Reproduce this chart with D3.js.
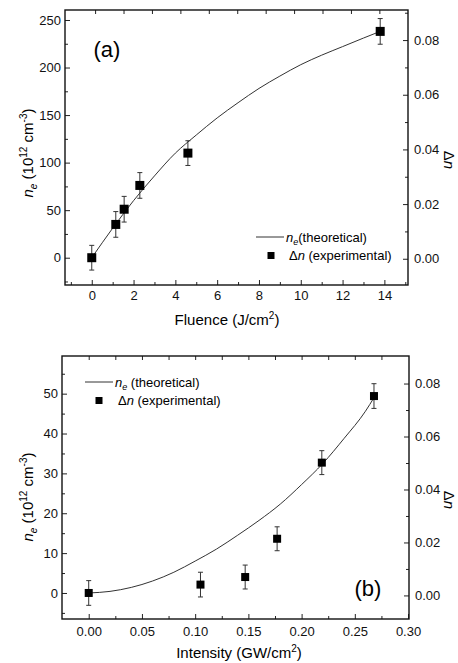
<!DOCTYPE html>
<html lang="en">
<head>
<meta charset="utf-8" />
<title>ne vs fluence and intensity</title>
<script src="https://d3js.org/d3.v7.min.js"></script>
<style>
  body { margin: 0; background: #fff; }
  svg { font-family: Arial, "Liberation Sans", sans-serif; }
  .tick line { stroke: #222; stroke-width: 1; }
  .tick text { font-size: 13px; fill: #111; }
  .domain { display: none; }
</style>
</head>
<body>
<script>
// panel (a): fluence
const fluence = [0, 1.15, 1.55, 2.3, 4.6, 13.8];
const neA = [0, 35, 51, 76, 110, 238];
const errA = [13, 13.5, 13.5, 13.5, 13, 13.5];
const curveFluence = [0, 1, 2, 3, 4, 5, 6, 7, 8, 9, 10, 11, 12, 13, 13.8];
const curveNeA = [0, 31, 60, 86, 110, 129, 147, 163, 178, 191, 203, 213, 222, 231, 238];

// panel (b): intensity
const intensity = [0, 0.105, 0.147, 0.177, 0.219, 0.268];
const neB = [0, 2.1, 4.0, 13.6, 32.7, 49.4];
const errB = [3.1, 3.1, 3, 3, 3, 3.1];
const curveIntensity = [0, 0.02, 0.04, 0.06, 0.08, 0.10, 0.12, 0.14, 0.16, 0.18, 0.20, 0.22, 0.24, 0.26, 0.268];
const curveNeB = [0, 0.4, 1.4, 3.0, 5.2, 8.0, 11.0, 14.5, 18.2, 22.3, 27.2, 32.5, 38.8, 45.6, 49.0];

// tick values
const xMajorA = [0, 2, 4, 6, 8, 10, 12, 14];
const xMinorA = [-1, 1, 3, 5, 7, 9, 11, 13, 15];
const xTopA = [0.16, 1.52, 2.88, 4.24, 5.6, 6.96, 8.32, 9.68, 11.04, 12.4, 13.76];
const yMajorA = [0, 50, 100, 150, 200, 250];
const yMinorA = [-25, 25, 75, 125, 175, 225];
const rMajor = [0, 0.02, 0.04, 0.06, 0.08];
const rMinorA = [0.01, 0.03, 0.05, 0.07, 0.09];
const rMinorB = [0.01, 0.03, 0.05, 0.07];
const xMajorB = [0, 0.05, 0.10, 0.15, 0.20, 0.25, 0.30];
const xMinorB = [0.025, 0.075, 0.125, 0.175, 0.225, 0.275];
const xTopB = [0, 0.025, 0.05, 0.075, 0.1, 0.125, 0.15, 0.175, 0.2, 0.225, 0.25, 0.275];
const yMajorB = [0, 10, 20, 30, 40, 50];
const yMinorB = [-5, 5, 15, 25, 35, 45, 55];

const svg = d3.select("body").append("svg")
    .attr("width", 458)
    .attr("height", 663);

function panel(cfg) {
    const x = d3.scaleLinear().domain(cfg.xDomain).range([cfg.left, cfg.right]);
    const y = d3.scaleLinear().domain(cfg.yDomain).range([cfg.bottom, cfg.top]);
    const r = d3.scaleLinear().domain(cfg.rDomain).range([cfg.bottom, cfg.top]);
    const g = svg.append("g");

    // axes, ticks inward
    g.append("g").attr("transform", "translate(0," + cfg.bottom + ")")
        .call(d3.axisBottom(x).tickValues(cfg.xMajor).tickSize(-5).tickPadding(cfg.xPad)
            .tickFormat(cfg.xFormat));
    g.append("g").attr("transform", "translate(0," + cfg.bottom + ")")
        .call(d3.axisBottom(x).tickValues(cfg.xMinor).tickSize(-3).tickFormat(""));
    const xt = d3.scaleLinear().domain(cfg.xDomain).range([cfg.left, cfg.right]);
    g.append("g").attr("transform", "translate(0," + cfg.top + ")")
        .call(d3.axisTop(xt).tickValues(cfg.xTop).tickSize(-4).tickFormat(""));
    g.append("g").attr("transform", "translate(" + cfg.left + ",0)")
        .call(d3.axisLeft(y).tickValues(cfg.yMajor).tickSize(-5).tickPadding(4));
    g.append("g").attr("transform", "translate(" + cfg.left + ",0)")
        .call(d3.axisLeft(y).tickValues(cfg.yMinor).tickSize(-3).tickFormat(""));
    g.append("g").attr("transform", "translate(" + cfg.right + ",0)")
        .call(d3.axisRight(r).tickValues(rMajor).tickSize(-5).tickPadding(6)
            .tickFormat(d3.format(".2f")));
    g.append("g").attr("transform", "translate(" + cfg.right + ",0)")
        .call(d3.axisRight(r).tickValues(cfg.rMinor).tickSize(-3).tickFormat(""));

    // frame
    g.append("rect")
        .attr("x", cfg.left).attr("y", cfg.top)
        .attr("width", cfg.right - cfg.left).attr("height", cfg.bottom - cfg.top)
        .attr("fill", "none").attr("stroke", "#111").attr("stroke-width", 1.4);

    // theoretical curve
    const line = d3.line()
        .x(d => x(d[0]))
        .y(d => y(d[1]))
        .curve(d3.curveMonotoneX);
    g.append("path")
        .datum(d3.zip(cfg.cx, cfg.cy))
        .attr("d", line)
        .attr("fill", "none")
        .attr("stroke", "#333")
        .attr("stroke-width", 1);

    // error bars
    const pts = d3.zip(cfg.px, cfg.py, cfg.pe);
    const eb = g.selectAll(".err").data(pts).enter().append("g").attr("class", "err")
        .attr("stroke", "#333").attr("stroke-width", 1);
    eb.append("line")
        .attr("x1", d => x(d[0])).attr("x2", d => x(d[0]))
        .attr("y1", d => y(d[1] - d[2])).attr("y2", d => y(d[1] + d[2]));
    eb.append("line")
        .attr("x1", d => x(d[0]) - 2.5).attr("x2", d => x(d[0]) + 2.5)
        .attr("y1", d => y(d[1] + d[2])).attr("y2", d => y(d[1] + d[2]));
    eb.append("line")
        .attr("x1", d => x(d[0]) - 2.5).attr("x2", d => x(d[0]) + 2.5)
        .attr("y1", d => y(d[1] - d[2])).attr("y2", d => y(d[1] - d[2]));

    // squares
    g.selectAll(".sq").data(pts).enter().append("rect").attr("class", "sq")
        .attr("x", d => x(d[0]) - cfg.sq / 2)
        .attr("y", d => y(d[1]) - cfg.sq / 2)
        .attr("width", cfg.sq).attr("height", cfg.sq)
        .attr("fill", "#000");

    // panel label
    g.append("text")
        .attr("x", cfg.labelX).attr("y", cfg.labelY)
        .attr("text-anchor", "middle")
        .attr("font-size", 22)
        .text(cfg.label);

    // x title
    const xt2 = g.append("text")
        .attr("x", cfg.xTitleX).attr("y", cfg.xTitleY)
        .attr("text-anchor", "middle")
        .attr("font-size", 15);
    xt2.append("tspan").text(cfg.xTitle);
    xt2.append("tspan").attr("font-size", 10).attr("dy", -6).text("2");
    xt2.append("tspan").attr("dy", 6).text(")");

    // left title
    const yt = g.append("text")
        .attr("transform", "translate(33," + cfg.yTitleY + ") rotate(-90)")
        .attr("text-anchor", "middle")
        .attr("font-size", 15);
    yt.append("tspan").attr("font-style", "italic").text("n");
    yt.append("tspan").attr("font-style", "italic").attr("font-size", 10).attr("dy", 4).text("e");
    yt.append("tspan").attr("dy", -4).text(" (10");
    yt.append("tspan").attr("font-size", 10).attr("dy", -6).text("12");
    yt.append("tspan").attr("dy", 6).text(" cm");
    yt.append("tspan").attr("font-size", 10).attr("dy", -6).text("-3");
    yt.append("tspan").attr("dy", 6).text(")");

    // right title
    const rt = g.append("text")
        .attr("transform", "translate(444," + cfg.rTitleY + ") rotate(90)")
        .attr("text-anchor", "middle")
        .attr("font-size", 15);
    rt.append("tspan").text("Δ");
    rt.append("tspan").attr("font-style", "italic").text("n");

    // legend
    const lg = g.append("g").attr("font-size", 13);
    lg.append("line")
        .attr("x1", cfg.legX).attr("x2", cfg.legX + 28)
        .attr("y1", cfg.legY).attr("y2", cfg.legY)
        .attr("stroke", "#333").attr("stroke-width", 1);
    const l1 = lg.append("text").attr("x", cfg.legX + 30).attr("y", cfg.legY + 5);
    l1.append("tspan").attr("font-style", "italic").text("n");
    l1.append("tspan").attr("font-style", "italic").attr("font-size", 9).attr("dy", 3).text("e");
    l1.append("tspan").attr("dy", -3).text(cfg.legText1);
    lg.append("rect")
        .attr("x", cfg.legSqX - 3.5).attr("y", cfg.legY + 18.5 - 3.5)
        .attr("width", 7).attr("height", 7).attr("fill", "#000");
    const l2 = lg.append("text").attr("x", cfg.legX + 33).attr("y", cfg.legY + 23);
    l2.append("tspan").text("Δ");
    l2.append("tspan").attr("font-style", "italic").text("n");
    l2.append("tspan").text(" (experimental)");
}

panel({
    left: 65, right: 408, top: 10, bottom: 285,
    xDomain: [-1.28, 15.13], yDomain: [-28.7, 260.5], rDomain: [-0.0096, 0.0910],
    xMajor: xMajorA, xMinor: xMinorA, xTop: xTopA, xFormat: d3.format("d"), xPad: 6,
    yMajor: yMajorA, yMinor: yMinorA, rMinor: rMinorA,
    cx: curveFluence, cy: curveNeA, px: fluence, py: neA, pe: errA, sq: 9,
    label: "(a)", labelX: 107, labelY: 57,
    xTitle: "Fluence (J/cm", xTitleX: 227, xTitleY: 325,
    yTitleY: 153, rTitleY: 160,
    legX: 256, legY: 237, legSqX: 271, legText1: "(theoretical)"
});

panel({
    left: 62, right: 409, top: 356, bottom: 619,
    xDomain: [-0.0251, 0.3009], yDomain: [-6.53, 59.45], rDomain: [-0.0089, 0.0904],
    xMajor: xMajorB, xMinor: xMinorB, xTop: xTopB, xFormat: d3.format(".2f"), xPad: 8,
    yMajor: yMajorB, yMinor: yMinorB, rMinor: rMinorB,
    cx: curveIntensity, cy: curveNeB, px: intensity, py: neB, pe: errB, sq: 8,
    label: "(b)", labelX: 368, labelY: 596,
    xTitle: "Intensity (GW/cm", xTitleX: 239, xTitleY: 658,
    yTitleY: 497, rTitleY: 500,
    legX: 85, legY: 382, legSqX: 99, legText1: " (theoretical)"
});
</script>
</body>
</html>
